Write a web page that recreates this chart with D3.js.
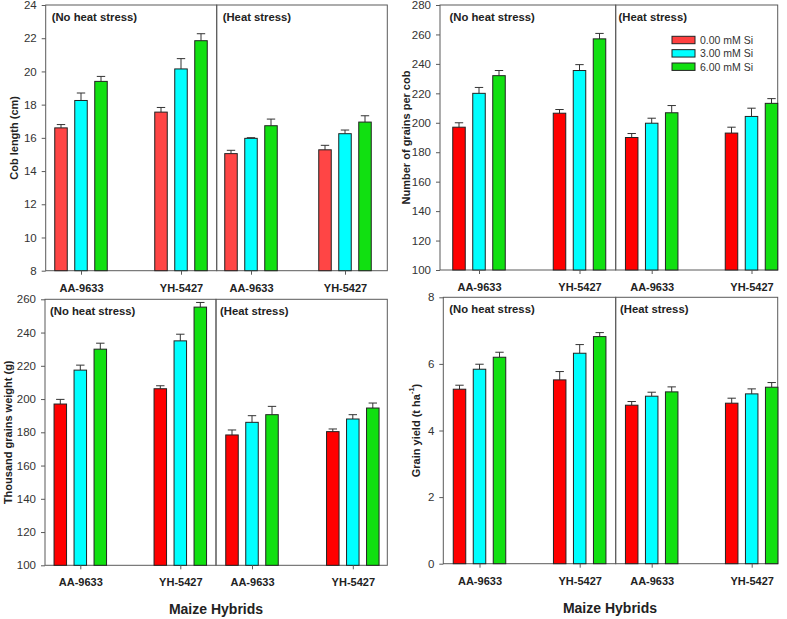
<!DOCTYPE html>
<html><head><meta charset="utf-8">
<script src="https://cdn.jsdelivr.net/npm/d3@7"></script>
<style>body{margin:0;background:#fff} svg{font-family:"Liberation Sans",Arial,sans-serif}</style>
</head><body><svg id="c" width="787" height="619"></svg>
<script>
const hybrids = ["AA-9633", "YH-5427"];
const conditions = ["(No heat stress)", "(Heat stress)"];
const siLevels = ["0.00 mM Si", "3.00 mM Si", "6.00 mM Si"];
// rows: no-heat AA-9633, no-heat YH-5427, heat AA-9633, heat YH-5427 ; columns: Si levels
const cobLength = [[16.6, 18.25, 19.4], [17.55, 20.15, 21.85], [15.05, 15.97, 16.73], [15.28, 16.25, 16.95]];
const cobLengthErr = [[0.2, 0.45, 0.3], [0.28, 0.62, 0.42], [0.2, 0.04, 0.4], [0.27, 0.22, 0.38]];
const grainsPerCob = [[197, 220, 232], [206.5, 235.5, 257], [190, 199.7, 206.8], [193, 204.3, 213.2]];
const grainsPerCobErr = [[3, 4, 3.5], [2.5, 4, 3.7], [2.7, 3.4, 4.9], [4, 5.6, 3.2]];
const thousandGrainWeight = [[197, 217.4, 230], [206.2, 235, 255.3], [178.4, 186, 190.6], [180.4, 188, 194.6]];
const thousandGrainWeightErr = [[2.8, 3, 3.6], [1.8, 4, 2.8], [3, 4, 5], [1.6, 2.6, 3]];
const grainYield = [[5.24, 5.84, 6.2], [5.52, 6.32, 6.82], [4.76, 5.03, 5.16], [4.82, 5.1, 5.3]];
const grainYieldErr = [[0.12, 0.15, 0.15], [0.25, 0.26, 0.12], [0.11, 0.12, 0.15], [0.15, 0.15, 0.14]];
const cobTicks = [8, 10, 12, 14, 16, 18, 20, 22, 24];
const grainsTicks = [100, 120, 140, 160, 180, 200, 220, 240, 260, 280];
const tgwTicks = [100, 120, 140, 160, 180, 200, 220, 240, 260];
const yieldTicks = [0, 2, 4, 6, 8];
const xTitle = "Maize Hybrids";

const svg = d3.select("#c");
const frameColor = "#5a5a5a";
const textColor = "#333";

const panels = [
  {vals: cobLength, errs: cobLengthErr, ticks: cobTicks, title: "Cob length (cm)",
   L: 45.7, D: 216.7, R: 387.3, T: 5, B: 270.7, centers: [[81, 181], [251, 345]],
   titleX: 13.5, red: "#ff4545", lab: [51.7, 222.7], xTitle: false},
  {vals: grainsPerCob, errs: grainsPerCobErr, ticks: grainsTicks, title: "Number of grains per cob",
   L: 440, D: 615.7, R: 777.7, T: 5, B: 270, centers: [[479, 579.5], [651.7, 751.5]],
   titleX: 405.5, red: "#ff0000", lab: [449.5, 618.5], xTitle: false, legend: true},
  {vals: thousandGrainWeight, errs: thousandGrainWeightErr, ticks: tgwTicks, title: "Thousand grains weight (g)",
   L: 45, D: 216, R: 387.3, T: 299.3, B: 565.3, centers: [[80.3, 180.3], [252, 352.8]],
   titleX: 7.5, red: "#ff0000", lab: [50, 220], xTitle: true, xtX: 216, xtY: 614},
  {vals: grainYield, errs: grainYieldErr, ticks: yieldTicks, title: "Grain yield (t ha",
   L: 443.3, D: 615.7, R: 777.7, T: 297.3, B: 563.7, centers: [[479.5, 579.7], [651.7, 751.7]],
   titleX: 416, red: "#ff0000", lab: [449.3, 620], xTitle: true, xtX: 610, xtY: 613, sup: true}
];

const inner = d3.scaleBand().domain(siLevels).range([-30, 30]).paddingInner(0.375).paddingOuter(0.1875);

panels.forEach(p => {
  const g = svg.append("g");
  const colors = [p.red, "#00ffff", "#11e011"];
  const color = d3.scaleOrdinal().domain(siLevels).range(colors);
  const y = d3.scaleLinear().domain([p.ticks[0], p.ticks[p.ticks.length - 1]]).range([p.B, p.T]);

  // frames
  [[p.L, p.D], [p.D, p.R]].forEach(([a, b]) => {
    g.append("rect").attr("x", a).attr("y", p.T).attr("width", b - a).attr("height", p.B - p.T)
      .attr("fill", "none").attr("stroke", frameColor).attr("stroke-width", 1);
  });

  // y axis
  const ya = g.append("g").attr("transform", `translate(${p.L},0)`)
    .call(d3.axisLeft(y).tickValues(p.ticks).tickSize(4).tickPadding(5));
  ya.select(".domain").remove();
  ya.selectAll(".tick line").attr("stroke", frameColor);
  ya.selectAll(".tick text").attr("font-size", 11.5).attr("fill", textColor)
    .attr("font-family", "Liberation Sans, Arial, sans-serif");

  // y title
  const yt = g.append("text").attr("transform", `translate(${p.titleX},${(p.T + p.B) / 2}) rotate(-90)`)
    .attr("text-anchor", "middle").attr("dominant-baseline", "central")
    .attr("font-size", 11).attr("font-weight", "bold").attr("fill", "#222").text(p.title);
  if (p.sup) {
    yt.append("tspan").attr("baseline-shift", "super").attr("font-size", 7.5).text("-1");
    yt.append("tspan").text(")");
  }

  conditions.forEach((cond, ci) => {
    const xs = d3.scalePoint().domain(hybrids).range(p.centers[ci]);
    // condition label
    g.append("text").attr("x", p.lab[ci]).attr("y", p.T + 15.5)
      .attr("font-size", 11.3).attr("font-weight", "bold").attr("fill", "#222").text(cond);

    hybrids.forEach((h, hi) => {
      const row = ci * 2 + hi;
      siLevels.forEach((s, si) => {
        const v = p.vals[row][si], e = p.errs[row][si];
        const x0 = xs(h) + inner(s), bw = inner.bandwidth();
        const cx = x0 + bw / 2;
        // error bar
        g.append("line").attr("x1", cx).attr("x2", cx).attr("y1", y(v)).attr("y2", y(v + e))
          .attr("stroke", "#333").attr("stroke-width", 1);
        g.append("line").attr("x1", cx - 4.2).attr("x2", cx + 4.2).attr("y1", y(v + e)).attr("y2", y(v + e))
          .attr("stroke", "#333").attr("stroke-width", 1);
        g.append("rect").attr("x", x0).attr("y", y(v)).attr("width", bw).attr("height", p.B - y(v))
          .attr("fill", color(s)).attr("stroke", "#222").attr("stroke-width", 1);
      });
    });

    // x axis ticks/labels
    const xa = g.append("g").attr("transform", `translate(0,${p.B})`)
      .call(d3.axisBottom(xs).tickSize(4).tickPadding(9.3));
    xa.select(".domain").remove();
    xa.selectAll(".tick line").attr("stroke", frameColor);
    xa.selectAll(".tick text").attr("font-size", 11).attr("font-weight", "bold").attr("fill", "#222")
      .attr("font-family", "Liberation Sans, Arial, sans-serif");
  });

  if (p.xTitle) {
    g.append("text").attr("x", p.xtX).attr("y", p.xtY).attr("text-anchor", "middle")
      .attr("font-size", 14).attr("font-weight", "bold").attr("fill", "#222").text(xTitle);
  }

  if (p.legend) {
    const lcol = d3.scaleOrdinal().domain(siLevels).range(["#ff4040", "#00ffff", "#11e011"]);
    const ly = d3.scalePoint().domain(siLevels).range([40, 66.7]);
    siLevels.forEach(s => {
      g.append("rect").attr("x", 672).attr("y", ly(s) - 3.7).attr("width", 23).attr("height", 7.4)
        .attr("fill", lcol(s)).attr("stroke", "#222").attr("stroke-width", 1);
      g.append("text").attr("x", 700).attr("y", ly(s)).attr("dominant-baseline", "central")
        .attr("font-size", 10.5).attr("fill", textColor).text(s);
    });
  }
});
</script></body></html>
